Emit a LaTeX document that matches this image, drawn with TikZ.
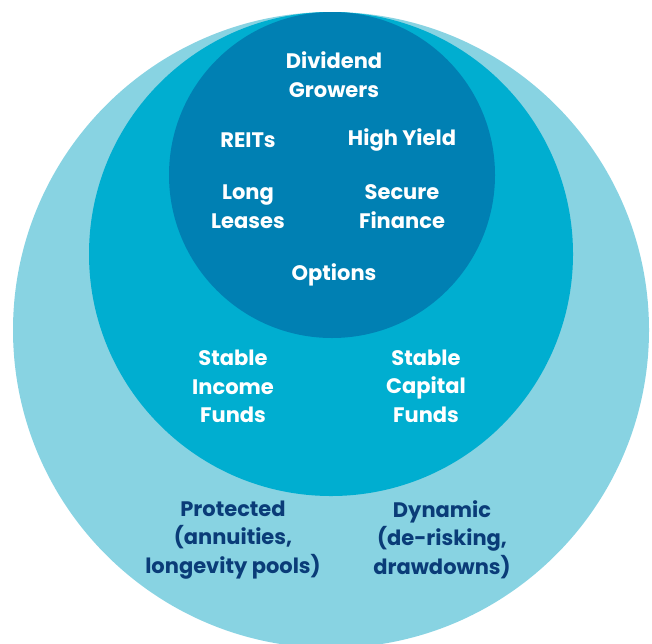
\documentclass[tikz,border=0pt]{standalone}
\usepackage{fontspec}
\setmainfont{Poppins}
\definecolor{ringouter}{RGB}{136, 211, 226}
\definecolor{ringmiddle}{RGB}{0, 174, 208}
\definecolor{ringinner}{RGB}{0, 128, 179}
\definecolor{labelnavy}{RGB}{10, 60, 120}
\usetikzlibrary{positioning}

\begin{document}
\begin{tikzpicture}[x=1pt,y=-1pt,
    ring/.style={circle,inner sep=0pt,draw=none},
    lbl/.style={align=center,font=\fontsize{21}{28.5}\selectfont\bfseries,text=white,inner sep=0pt,yshift=-2pt},
    lbldark/.style={lbl,text=labelnavy}]
        \useasboundingbox (0,0) rectangle (652,643);
        \clip (0,0) rectangle (652,643);

        % the three rings
        \node[ring,fill=ringouter,minimum size=636]    (outer)  at (331,330) {};
        \node[ring,fill=ringmiddle,minimum size=484]   (middle) at (331,254) {};
        \node[ring,fill=ringinner,minimum size=326]    (inner)  at (332,175) {};

        % inner ring
        \node[lbl] (growers)  at (334,72.5)  {Dividend\\Growers};
        \node[lbl] (reits)    at (248,138)   {REITs};
        \node[lbl] (yield)    at (402,138)   {High Yield};
        \node[lbl] (leases)   at (248,204.5) {Long\\Leases};
        \node[lbl] (finance)  at (402,204.5) {Secure\\Finance};
        \node[lbl] (options)  at (334,273)   {Options};

        % middle ring
        \node[lbl] (income)   at (233,384.5) {Stable\\Income\\Funds};
        \node[lbl] (capital)  at (426,384)   {Stable\\Capital\\Funds};

        % outer ring
        \node[lbldark] (protected) at (233,538)   {Protected\\(annuities,\\longevity pools)};
        \node[lbldark] (dynamic)   at (442,537.5) {Dynamic\\(de-risking,\\drawdowns)};
    \end{tikzpicture}
\end{document}
